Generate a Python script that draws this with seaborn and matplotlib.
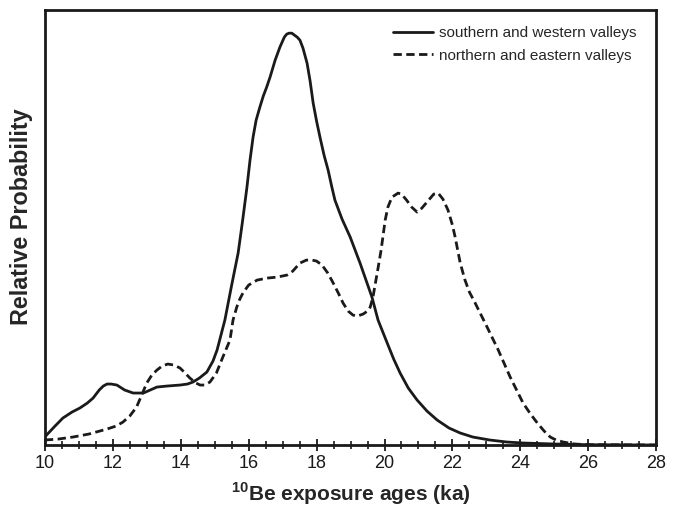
import matplotlib
matplotlib.use("Agg")
import matplotlib.pyplot as plt
import seaborn as sns
import pandas as pd
from matplotlib.ticker import MultipleLocator

sns.set_theme(style="white")
plt.rcParams['font.family'] = ['Liberation Sans', 'DejaVu Sans']
plt.rcParams['mathtext.fontset'] = 'custom'
plt.rcParams['mathtext.rm'] = 'Liberation Sans:bold'
plt.rcParams['mathtext.bf'] = 'Liberation Sans:bold'
plt.rcParams['lines.solid_joinstyle'] = 'round'
plt.rcParams['lines.dash_joinstyle'] = 'round'

south_age = [10.0, 10.05, 10.3, 10.53, 10.8, 11.03, 11.25, 11.42, 11.6, 11.72, 11.83, 11.95, 12.12,
             12.35, 12.6, 12.9, 13.1, 13.3, 13.6, 13.98, 14.2, 14.36, 14.55, 14.77, 14.95, 15.07,
             15.3, 15.5, 15.69, 15.82, 15.95, 16.04, 16.13, 16.22, 16.33, 16.43, 16.53, 16.63,
             16.78, 16.92, 17.05, 17.12, 17.19, 17.27, 17.35, 17.43, 17.51, 17.6, 17.72, 17.81,
             17.9, 18.0, 18.1, 18.22, 18.34, 18.45, 18.54, 18.75, 18.99, 19.28, 19.63, 19.81,
             20.08, 20.27, 20.46, 20.7, 20.96, 21.25, 21.55, 21.9, 22.23, 22.6, 23.1, 23.6,
             24.08, 25.0, 26.0, 28.0]
south_prob = [8, 10, 19, 27, 33, 37, 42, 47, 55, 59, 61, 61, 60,
              55, 52, 52, 55, 58, 59, 60, 61, 63, 67, 73, 84, 95,
              125, 160, 192, 224, 258, 285, 308, 325, 338, 349, 358, 368,
              385, 398, 408, 411, 412, 412, 410, 408, 405, 397, 382, 364,
              342, 324, 308, 290, 275, 258, 245, 226, 208, 182, 148, 125,
              102, 86, 72, 57, 45, 34, 25, 17, 12, 8, 5, 3,
              2, 1, 0.3, 0]

north_age = [10.0, 10.4, 10.83, 11.3, 11.83, 12.1, 12.3, 12.5, 12.7, 12.85, 13.0, 13.15, 13.3,
             13.45, 13.62, 13.8, 13.98, 14.1, 14.27, 14.45, 14.57, 14.7, 14.86, 15.05, 15.24,
             15.45, 15.54, 15.65, 15.74, 15.83, 16.0, 16.25, 16.55, 16.84, 17.13, 17.3, 17.51,
             17.7, 17.87, 18.0, 18.16, 18.33, 18.49, 18.64, 18.78, 18.93, 19.07, 19.2, 19.37,
             19.5, 19.58, 19.66, 19.8, 19.9, 20.02, 20.1, 20.22, 20.4, 20.5, 20.65, 20.8, 20.96,
             21.1, 21.3, 21.45, 21.58, 21.72, 21.87, 22.0, 22.08, 22.23, 22.37, 22.5, 22.67,
             23.02, 23.35, 23.7, 24.08, 24.3, 24.5, 24.7, 24.88, 25.05, 25.26, 25.6, 26.0, 28.0]
north_prob = [5, 6, 8, 11, 16, 19, 23, 29, 38, 50, 62, 70, 75,
              79, 81, 80, 77, 73, 67, 62, 60, 60, 63, 72, 88,
              105, 125, 138, 146, 152, 160, 165, 167, 168, 170, 174, 182,
              185, 185, 184, 180, 172, 162, 152, 142, 134, 130, 129, 131,
              134, 138, 148, 175, 195, 225, 238, 248, 252, 251, 245, 238, 233,
              237, 245, 251, 252, 246, 235, 220, 208, 182, 165, 153, 142,
              118, 95, 68, 42, 31, 22, 14, 8, 5, 3, 1, 0.3, 0]

labels = ["southern and western valleys", "northern and eastern valleys"]

df = pd.concat([
    pd.DataFrame({"age": south_age, "prob": [p / 412 for p in south_prob], "group": labels[0]}),
    pd.DataFrame({"age": north_age, "prob": [p / 412 for p in north_prob], "group": labels[1]}),
])

fig = plt.figure(figsize=(6.8, 5.09), dpi=100)
ax = fig.add_axes([0.066, 0.1257, 0.899, 0.8543])

sns.lineplot(data=df, x="age", y="prob", hue="group", style="group",
             palette={labels[0]: "#1a1a1a", labels[1]: "#1a1a1a"},
             dashes={labels[0]: "", labels[1]: (3.0, 1.6)},
             linewidth=2.0, sort=False, estimator=None, ax=ax)

ax.set_xlim(10, 28)
ax.set_ylim(0, 435 / 412)
ax.set_yticks([])
ax.xaxis.set_major_locator(MultipleLocator(2))
ax.xaxis.set_minor_locator(MultipleLocator(0.5))
ax.tick_params(axis='x', which='major', direction='inout', length=9, width=1.3,
               labelsize=13, colors='#1a1a1a', pad=3, bottom=True)
ax.tick_params(axis='x', which='minor', direction='inout', length=6, width=1.2,
               colors='#1a1a1a', bottom=True)
for s in ax.spines.values():
    s.set_linewidth(2.0)
    s.set_color('#1a1a1a')

ax.set_xlabel(r"$^{10}$Be exposure ages (ka)", fontsize=15, fontweight='bold', labelpad=6)
ax.set_ylabel("Relative Probability", fontsize=16.8, fontweight='bold')
ax.yaxis.set_label_coords(-0.020, 0.524)

leg = ax.legend(loc='upper right', frameon=False, fontsize=11, handlelength=2.6,
                handletextpad=0.4, labelspacing=0.55, bbox_to_anchor=(0.99, 0.995))
for line in leg.get_lines():
    line.set_linewidth(2.0)

fig.savefig("out.png", dpi=100)
